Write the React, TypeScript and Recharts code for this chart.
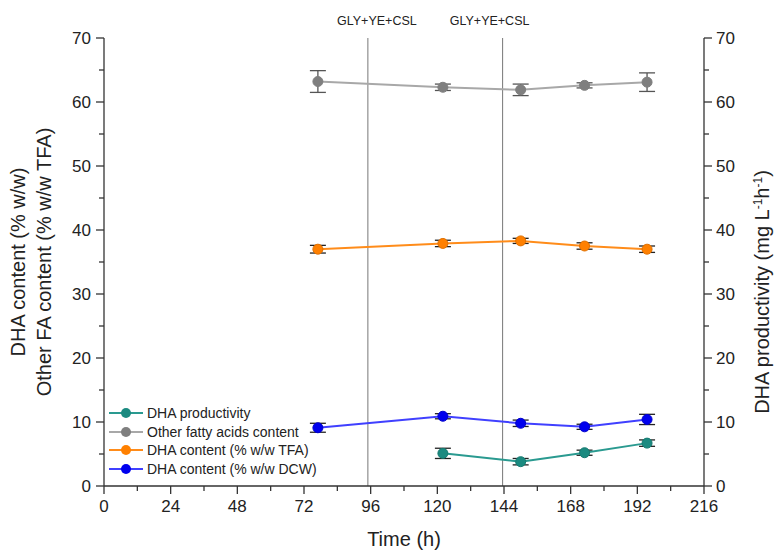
import React from 'react';
import { ComposedChart, Line, XAxis, YAxis, ErrorBar, ReferenceLine, Legend } from 'recharts';

// sampling times (h)
const hours = [77, 122, 150, 173, 195.5];

const otherFa = [63.2, 62.3, 61.9, 62.6, 63.1];
const otherFaErr = [1.7, 0.5, 0.9, 0.4, 1.45];
const dhaTfa = [37.0, 37.9, 38.3, 37.5, 37.0];
const dhaTfaErr = [0.6, 0.5, 0.4, 0.5, 0.5];
const dhaDcw = [9.1, 10.9, 9.8, 9.25, 10.4];
const dhaDcwErr = [0.7, 0.4, 0.5, 0.4, 0.8];
const productivity = [null, 5.1, 3.8, 5.2, 6.7];
const productivityErr = [null, 0.8, 0.5, 0.4, 0.5];

const feedHours = [95, 143.5];
const feedLabels = ['GLY+YE+CSL', 'GLY+YE+CSL'];
const feedLabelShift = [9, -13];

const xTicks = [0, 12, 24, 36, 48, 60, 72, 84, 96, 108, 120, 132, 144, 156, 168, 180, 192, 204, 216];
const yTicks = [0, 5, 10, 15, 20, 25, 30, 35, 40, 45, 50, 55, 60, 65, 70];

const legendItems = [
  { name: 'DHA productivity', color: '#1b8a80', line: '#2a9a90' },
  { name: 'Other fatty acids content', color: '#7f7f7f', line: '#a8a8a8' },
  { name: 'DHA content (% w/w TFA)', color: '#ff8000', line: '#ff8c1a' },
  { name: 'DHA content (% w/w DCW)', color: '#0000ee', line: '#4040ff' },
];

const data = hours.map((h, i) => ({
  h,
  other: otherFa[i],
  otherErr: otherFaErr[i],
  tfa: dhaTfa[i],
  tfaErr: dhaTfaErr[i],
  dcw: dhaDcw[i],
  dcwErr: dhaDcwErr[i],
  prod: productivity[i],
  prodErr: productivityErr[i],
}));

const AXIS = '#333';
const FONT = '"Liberation Sans", Arial, sans-serif';

const LeftTick = ({ x, y, payload }: any) => {
  const major = payload.value % 10 === 0;
  return (
    <g>
      <line x1={x} x2={x - (major ? 8 : 5)} y1={y} y2={y} stroke={AXIS} strokeWidth={1.3} />
      {major && (
        <text x={x - 13} y={y} dy={6} textAnchor="end" fontSize={17} fill="#222" fontFamily={FONT}>
          {payload.value}
        </text>
      )}
    </g>
  );
};

const RightTick = ({ x, y, payload }: any) => {
  const major = payload.value % 10 === 0;
  return (
    <g>
      <line x1={x} x2={x + (major ? 8 : 5)} y1={y} y2={y} stroke={AXIS} strokeWidth={1.3} />
      {major && (
        <text x={x + 12} y={y} dy={6} textAnchor="start" fontSize={17} fill="#222" fontFamily={FONT}>
          {payload.value}
        </text>
      )}
    </g>
  );
};

const BottomTick = ({ x, y, payload }: any) => {
  const major = payload.value % 24 === 0;
  return (
    <g>
      <line x1={x} x2={x} y1={y} y2={y + (major ? 8 : 5)} stroke={AXIS} strokeWidth={1.3} />
      {major && (
        <text x={x} y={y + 26} textAnchor="middle" fontSize={17} fill="#222" fontFamily={FONT}>
          {payload.value}
        </text>
      )}
    </g>
  );
};

const TopTick = ({ x, y, payload }: any) => {
  const major = payload.value % 24 === 0;
  return <line x1={x} x2={x} y1={y} y2={y + (major ? 8 : 5)} stroke={AXIS} strokeWidth={1.3} />;
};

const LeftLabel = ({ viewBox }: any) => {
  const cy = viewBox.y + viewBox.height / 2;
  return (
    <g fontFamily={FONT} fontSize={20} fill="#222">
      <text transform={`translate(25, ${cy}) rotate(-90)`} textAnchor="middle">DHA content (% w/w)</text>
      <text transform={`translate(51, ${cy}) rotate(-90)`} textAnchor="middle">Other FA content (% w/w TFA)</text>
    </g>
  );
};

const RightLabel = ({ viewBox }: any) => {
  const cy = viewBox.y + viewBox.height / 2 + 30;
  return (
    <text transform={`translate(769, ${cy}) rotate(-90)`} textAnchor="middle" fontFamily={FONT} fontSize={20} fill="#222">
      DHA productivity (mg L
      <tspan dy={-7} fontSize={12}>-1</tspan>
      <tspan dy={7}>h</tspan>
      <tspan dy={-7} fontSize={12}>-1</tspan>
      <tspan dy={7}>)</tspan>
    </text>
  );
};

const LegendBox = () => (
  <div style={{ fontFamily: FONT, fontSize: 14, color: '#222' }}>
    {legendItems.map((it) => (
      <div key={it.name} style={{ display: 'flex', alignItems: 'center', height: 18.5 }}>
        <svg width={36} height={14} style={{ marginRight: 3 }}>
          <line x1={1} x2={35} y1={7} y2={7} stroke={it.line} strokeWidth={2} />
          <circle cx={18} cy={7} r={5} fill={it.color} />
        </svg>
        <span>{it.name}</span>
      </div>
    ))}
  </div>
);

export default function App() {
  return (
    <div style={{ position: 'absolute', left: 0, top: 0, width: 774, height: 551, background: '#fff' }}>
      <ComposedChart width={774} height={551} data={data} margin={{ top: 38, right: 0, bottom: 0, left: 0 }}>
        <XAxis
          xAxisId="b"
          dataKey="h"
          type="number"
          domain={[0, 216]}
          ticks={xTicks}
          interval={0}
          height={65}
          tickSize={0}
          tickMargin={0}
          tickLine={false}
          tick={<BottomTick />}
          axisLine={{ stroke: AXIS, strokeWidth: 1.3 }}
          label={{ value: 'Time (h)', position: 'insideBottom', offset: 5, fontSize: 20, fill: '#222', fontFamily: FONT }}
        />
        <XAxis
          xAxisId="t"
          dataKey="h"
          type="number"
          orientation="top"
          domain={[0, 216]}
          ticks={xTicks}
          interval={0}
          height={0}
          tickSize={0}
          tickMargin={0}
          tickLine={false}
          tick={<TopTick />}
          axisLine={{ stroke: AXIS, strokeWidth: 1.3 }}
        />
        <YAxis
          yAxisId="l"
          domain={[0, 70]}
          ticks={yTicks}
          interval={0}
          width={104}
          tickSize={0}
          tickMargin={0}
          tickLine={false}
          tick={<LeftTick />}
          axisLine={{ stroke: AXIS, strokeWidth: 1.3 }}
          label={<LeftLabel />}
        />
        <YAxis
          yAxisId="r"
          orientation="right"
          domain={[0, 70]}
          ticks={yTicks}
          interval={0}
          width={70}
          tickSize={0}
          tickMargin={0}
          tickLine={false}
          tick={<RightTick />}
          axisLine={{ stroke: AXIS, strokeWidth: 1.3 }}
          label={<RightLabel />}
        />
        {feedHours.map((fh, i) => (
          <ReferenceLine
            key={i}
            x={fh}
            xAxisId="b"
            yAxisId="l"
            stroke="#777"
            strokeWidth={1}
            label={({ viewBox }: any) => (
              <text
                x={viewBox.x + feedLabelShift[i]}
                y={viewBox.y - 13}
                textAnchor="middle"
                fontSize={12.5}
                fill="#222"
                fontFamily={FONT}
              >
                {feedLabels[i]}
              </text>
            )}
          />
        ))}
        <Legend
          layout="vertical"
          align="center"
          verticalAlign="middle"
          wrapperStyle={{ left: 108, top: 404, width: 230 }}
          content={<LegendBox />}
        />
        <Line
          xAxisId="b"
          yAxisId="l"
          dataKey="other"
          stroke="#a8a8a8"
          strokeWidth={2}
          dot={{ r: 5, fill: '#7f7f7f', stroke: '#7f7f7f', strokeWidth: 1 }}
          isAnimationActive={false}
        >
          <ErrorBar dataKey="otherErr" direction="y" width={8} stroke="#555" strokeWidth={1.3} />
        </Line>
        <Line
          xAxisId="b"
          yAxisId="l"
          dataKey="tfa"
          stroke="#ff8c1a"
          strokeWidth={2}
          dot={{ r: 5, fill: '#ff8000', stroke: '#e07000', strokeWidth: 1 }}
          isAnimationActive={false}
        >
          <ErrorBar dataKey="tfaErr" direction="y" width={8} stroke="#222" strokeWidth={1.3} />
        </Line>
        <Line
          xAxisId="b"
          yAxisId="l"
          dataKey="dcw"
          stroke="#4040ff"
          strokeWidth={2}
          dot={{ r: 5, fill: '#0000ee', stroke: '#0000cc', strokeWidth: 1 }}
          isAnimationActive={false}
        >
          <ErrorBar dataKey="dcwErr" direction="y" width={8} stroke="#222" strokeWidth={1.3} />
        </Line>
        <Line
          xAxisId="b"
          yAxisId="r"
          dataKey="prod"
          stroke="#2a9a90"
          strokeWidth={2}
          dot={{ r: 5, fill: '#1b8a80', stroke: '#167a70', strokeWidth: 1 }}
          connectNulls
          isAnimationActive={false}
        >
          <ErrorBar dataKey="prodErr" direction="y" width={8} stroke="#222" strokeWidth={1.3} />
        </Line>
      </ComposedChart>
    </div>
  );
}
